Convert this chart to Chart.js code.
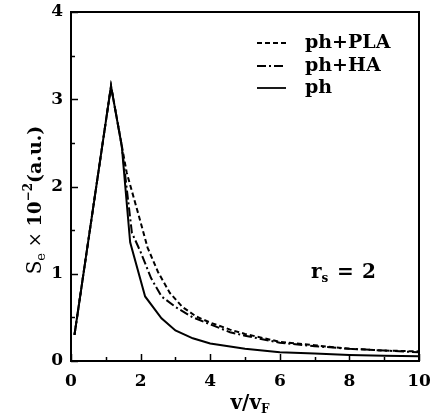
<!DOCTYPE html>
<html>
<head>
<meta charset="utf-8">
<script src="https://cdn.jsdelivr.net/npm/chart.js@4/dist/chart.umd.min.js"></script>
<style>
html,body{margin:0;padding:0;background:#fff;}
#c{display:block;}
</style>
</head>
<body>
<canvas id="c" width="437" height="417"></canvas>
<script>
// ---- data ----
const seriesNames = ["ph+PLA", "ph+HA", "ph"];
const xTicks = [0, 2, 4, 6, 8, 10];
const yTicks = [0, 1, 2, 3, 4];

const xPLA = [0.1, 1.15, 1.4, 1.6, 1.98, 2.2, 2.5, 2.84, 3.2, 3.6, 4.0, 4.57, 5.0, 6.0, 7.0, 8.0, 9.0, 10.0];
const yPLA = [0.3, 3.15, 2.6, 2.16, 1.62, 1.3, 1.02, 0.78, 0.62, 0.51, 0.44, 0.36, 0.31, 0.22, 0.18, 0.14, 0.12, 0.11];

const xHA = [0.1, 1.15, 1.46, 1.75, 2.0, 2.3, 2.6, 3.0, 3.5, 4.0, 4.57, 5.0, 6.0, 7.0, 8.0, 9.0, 10.0];
const yHA = [0.3, 3.15, 2.46, 1.47, 1.25, 0.95, 0.74, 0.62, 0.5, 0.42, 0.33, 0.29, 0.21, 0.17, 0.14, 0.12, 0.1];

const xPh = [0.1, 1.15, 1.46, 1.7, 2.13, 2.6, 3.0, 3.5, 4.0, 5.0, 6.0, 7.0, 8.0, 9.0, 10.0];
const yPh = [0.3, 3.15, 2.46, 1.36, 0.74, 0.49, 0.35, 0.26, 0.2, 0.14, 0.1, 0.085, 0.07, 0.06, 0.055];

const dashPLA = [5, 3];
const dashHA = [9, 3, 2, 3];
const dashPh = [];

function pts(xs, ys) { return xs.map((x, i) => ({ x: x, y: ys[i] })); }

const FONT = "DejaVu Serif";
const tickFont = { family: FONT, size: 17, weight: "bold" };

const decor = {
  id: "decor",
  afterDraw(chart) {
    const ctx = chart.ctx;
    const a = chart.chartArea;
    const xs = chart.scales.x, ys = chart.scales.y;
    ctx.save();
    ctx.strokeStyle = "#000";
    ctx.fillStyle = "#000";
    // frame
    ctx.lineWidth = 2;
    ctx.setLineDash([]);
    ctx.strokeRect(a.left, a.top, a.right - a.left, a.bottom - a.top);
    // inward ticks
    ctx.lineWidth = 1.5;
    ctx.beginPath();
    for (let v = 0; v <= 10; v += 1) {
      const px = Math.round(xs.getPixelForValue(v)) + 0.5;
      const len = (v % 2 === 0) ? 7 : 4;
      ctx.moveTo(px, a.bottom);
      ctx.lineTo(px, a.bottom - len);
    }
    for (let v = 0; v <= 4; v += 0.5) {
      const py = Math.round(ys.getPixelForValue(v)) + 0.5;
      const len = (v % 1 === 0) ? 7 : 4;
      ctx.moveTo(a.left, py);
      ctx.lineTo(a.left + len, py);
    }
    ctx.stroke();

    // legend
    const legendRows = [
      { name: seriesNames[0], dash: dashPLA, y: 43 },
      { name: seriesNames[1], dash: dashHA, y: 66 },
      { name: seriesNames[2], dash: dashPh, y: 88 }
    ];
    ctx.textBaseline = "middle";
    ctx.textAlign = "left";
    ctx.font = "bold 19px '" + FONT + "'";
    legendRows.forEach(r => {
      ctx.lineWidth = 1.8;
      ctx.setLineDash(r.dash);
      ctx.beginPath();
      ctx.moveTo(257, r.y);
      ctx.lineTo(286, r.y);
      ctx.stroke();
      ctx.setLineDash([]);
      ctx.fillText(r.name, 305, r.y);
    });

    // r_s = 2
    ctx.textBaseline = "alphabetic";
    const base = 278;
    ctx.font = "bold 20px '" + FONT + "'";
    ctx.fillText("r", 311, base);
    const rw = ctx.measureText("r").width;
    ctx.font = "bold 12px '" + FONT + "'";
    ctx.fillText("s", 311 + rw, base + 4);
    ctx.font = "bold 20px '" + FONT + "'";
    ctx.fillText("=", 337, base);
    ctx.fillText("2", 362, base);

    // x title v/v_F
    const t1 = "v/v";
    ctx.font = "bold 20px '" + FONT + "'";
    const w1 = ctx.measureText(t1).width;
    ctx.font = "bold 12px '" + FONT + "'";
    const w2 = ctx.measureText("F").width;
    let xx = 250 - (w1 + w2) / 2;
    const xb = 409;
    ctx.font = "bold 20px '" + FONT + "'";
    ctx.fillText(t1, xx, xb); xx += w1;
    ctx.font = "bold 12px '" + FONT + "'";
    ctx.fillText("F", xx, xb + 4);

    // y title S_e x 10^-2 (a.u.)
    const parts = [
      { t: "S", f: "20px '" + FONT + "'", dy: 0 },
      { t: "e", f: "13px '" + FONT + "'", dy: 4 },
      { t: " × ", f: "18px '" + FONT + "'", dy: 0 },
      { t: "10", f: "bold 18px '" + FONT + "'", dy: 0 },
      { t: "−2", f: "bold 12px '" + FONT + "'", dy: -9 },
      { t: "(a.u.)", f: "bold 19px '" + FONT + "'", dy: 0 }
    ];
    let total = 0;
    parts.forEach(p => { ctx.font = p.f; p.w = ctx.measureText(p.t).width; total += p.w; });
    ctx.translate(41, 200);
    ctx.rotate(-Math.PI / 2);
    let px = -total / 2;
    parts.forEach(p => {
      ctx.font = p.f;
      ctx.fillText(p.t, px, p.dy);
      px += p.w;
    });
    ctx.restore();
  }
};

new Chart(document.getElementById("c"), {
  type: "line",
  data: {
    datasets: [
      { label: seriesNames[0], data: pts(xPLA, yPLA), borderDash: dashPLA },
      { label: seriesNames[1], data: pts(xHA, yHA), borderDash: dashHA },
      { label: seriesNames[2], data: pts(xPh, yPh), borderDash: dashPh }
    ].map(d => Object.assign(d, {
      borderColor: "#000", borderWidth: 2, pointRadius: 0, tension: 0, fill: false
    }))
  },
  options: {
    responsive: false,
    animation: false,
    devicePixelRatio: 1,
    layout: { padding: { left: 0, right: 18, top: 12, bottom: 0 } },
    plugins: { legend: { display: false }, tooltip: { enabled: false } },
    scales: {
      x: {
        type: "linear", min: 0, max: 10,
        afterBuildTicks: s => { s.ticks = xTicks.map(v => ({ value: v })); },
        afterFit: s => { s.height = 56; s.paddingLeft = 0; s.paddingRight = 0; },
        ticks: { font: tickFont, color: "#000", padding: 10, maxRotation: 0 },
        grid: { display: false, drawTicks: false },
        border: { display: false }
      },
      y: {
        type: "linear", min: 0, max: 4,
        afterBuildTicks: s => { s.ticks = yTicks.map(v => ({ value: v })); },
        afterFit: s => { s.width = 71; s.paddingTop = 0; s.paddingBottom = 0; },
        ticks: { font: tickFont, color: "#000", padding: 8 },
        grid: { display: false, drawTicks: false },
        border: { display: false }
      }
    }
  },
  plugins: [decor]
});
</script>
</body>
</html>
